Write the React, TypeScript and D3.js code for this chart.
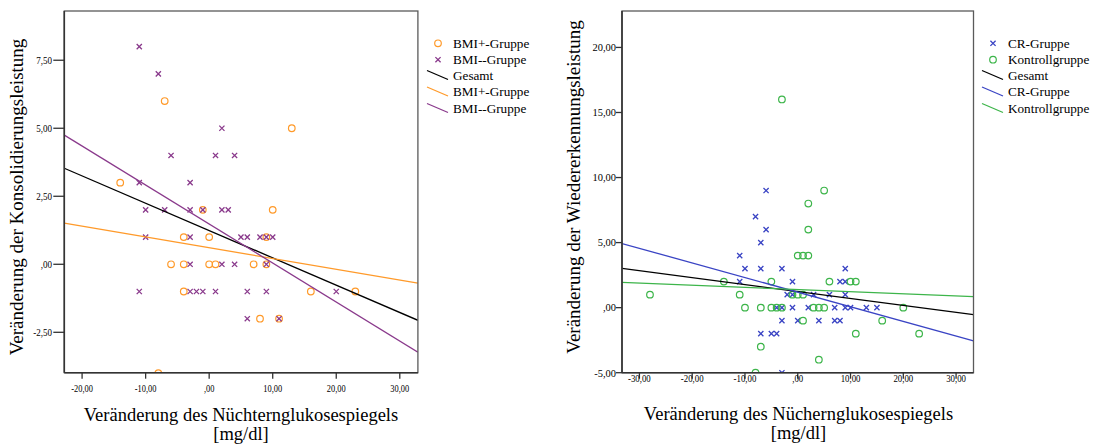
import React from "react";
import * as d3 from "d3";

// ---------- data: left chart (Konsolidierungsleistung) ----------
const bmiPlusX = [-7, 13, -14, -1, 10, -4, 0, 9, -6, -4, 0, 1, 7, 9, -4, 16, 23, 8, 11, -8];
const bmiPlusY = [6, 5, 3, 2, 2, 1, 1, 1, 0, 0, 0, 0, 0, 0, -1, -1, -1, -2, -2, -4];
const bmiMinusX = [-11, -8, 2, -6, 1, 4, -11, -3, -10, -7, -3, -1, 2, 3, -10, -3, 5, 6, 8, 9, 10, -3, 2, 4, 9, -11, -3, -2, -1, 1, 6, 9, 20, 6, 11];
const bmiMinusY = [8, 7, 5, 4, 4, 4, 3, 3, 2, 2, 2, 2, 2, 2, 1, 1, 1, 1, 1, 1, 1, 0, 0, 0, 0, -1, -1, -1, -1, -1, -1, -1, -1, -2, -2];
// fit lines [intercept, slope]: Gesamt, BMI+, BMI-
const leftFitNames = ["Gesamt", "BMI+-Gruppe", "BMI--Gruppe"];
const leftFitIntercepts = [1.24, 0.61, 1.48];
const leftFitSlopes = [-0.1004, -0.0396, -0.1434];
const leftXTicks = [-20, -10, 0, 10, 20, 30];
const leftXTickLabels = ["-20,00", "-10,00", ",00", "10,00", "20,00", "30,00"];
const leftYTicks = [-2.5, 0, 2.5, 5, 7.5];
const leftYTickLabels = ["-2,50", ",00", "2,50", "5,00", "7,50"];

// ---------- data: right chart (Wiedererkennungsleistung) ----------
const crX = [-6, -8, -6, -7, -11, -10, -7, -3, 9, -11, -1, 8, 9, -2, -1, 3, 6, 9, -4, -3, -1, 2, 7, 9, 10, 13, 15, -3, 0, 4, 7, 8, -7, -5, -4, -3];
const crY = [9, 7, 6, 5, 4, 3, 3, 3, 3, 2, 2, 2, 2, 1, 1, 1, 1, 1, 0, 0, 0, 0, 0, 0, 0, 0, 0, -1, -1, -1, -1, -1, -2, -2, -2, -5];
const kgX = [-3, 5, 2, 2, 0, 1, 2, -14, -5, 6, 10, 11, -28, -11, -1, 0, 1, -10, -7, -5, -4, -3, 3, 4, 5, 20, 1, 16, 11, 23, -7, 4, -8];
const kgY = [16, 9, 8, 6, 4, 4, 4, 2, 2, 2, 2, 2, 1, 1, 1, 1, 1, 0, 0, 0, 0, 0, 0, 0, 0, 0, -1, -1, -2, -2, -3, -4, -5];
const rightFitNames = ["Gesamt", "CR-Gruppe", "Kontrollgruppe"];
const rightFitIntercepts = [1.24, 1.19, 1.39];
const rightFitSlopes = [-0.0533, -0.1123, -0.0165];
const rightXTicks = [-30, -20, -10, 0, 10, 20, 30];
const rightXTickLabels = ["-30,00", "-20,00", "-10,00", ",00", "10,00", "20,00", "30,00"];
const rightYTicks = [-5, 0, 5, 10, 15, 20];
const rightYTickLabels = ["-5,00", ",00", "5,00", "10,00", "15,00", "20,00"];

const ORANGE = "#FF9A2A";
const PURPLE = "#8A3A8C";
const BLUE = "#3A44C4";
const GREEN = "#3DB54A";
const SERIF = "'Liberation Serif', 'Times New Roman', serif";

function estWidth(s: string, size: number) {
  let w = 0;
  for (const c of s) w += c === "," ? 0.25 : c === "-" ? 0.333 : 0.5;
  return w * size;
}

function Circle({ x, y, color }: { x: number; y: number; color: string }) {
  return <circle cx={x} cy={y} r={3.3} fill="none" stroke={color} strokeWidth={1.2} />;
}
function Cross({ x, y, color }: { x: number; y: number; color: string }) {
  const s = 2.6;
  return (
    <path d={`M${x - s},${y - s}L${x + s},${y + s}M${x - s},${y + s}L${x + s},${y - s}`} stroke={color} strokeWidth={1.3} fill="none" />
  );
}

type PanelProps = {
  id: string;
  x0: number; x1: number; y0: number; y1: number;
  xDomain: [number, number]; yDomain: [number, number];
  series: { xs: number[]; ys: number[]; color: string; marker: "circle" | "cross" }[];
  fits: { a: number; b: number; color: string }[];
  xTicks: number[]; xTickLabels: string[]; yTicks: number[]; yTickLabels: string[];
  yLabelEnd: number; yTickLen: number; yTickFont: number; yTickSquash: number;
  xLabelBase: number; xTickFont: number; xTickSquash: number;
  yTitle: string; yTitleX: number; yTitleY: number;
  xTitle: string; xTitleX: number; xTitleBase: number;
};

function Panel(p: PanelProps) {
  const xs = d3.scaleLinear().domain(p.xDomain).range([p.x0, p.x1]);
  const ys = d3.scaleLinear().domain(p.yDomain).range([p.y1, p.y0]);
  return (
    <g>
      <defs>
        <clipPath id={p.id}>
          <rect x={p.x0} y={p.y0} width={p.x1 - p.x0} height={p.y1 - p.y0} />
        </clipPath>
      </defs>
      <g clipPath={`url(#${p.id})`}>
        {p.series.map((s, si) =>
          s.xs.map((xv, i) =>
            s.marker === "circle" ? (
              <Circle key={`${si}-${i}`} x={xs(xv)} y={ys(s.ys[i])} color={s.color} />
            ) : (
              <Cross key={`${si}-${i}`} x={xs(xv)} y={ys(s.ys[i])} color={s.color} />
            )
          )
        )}
        {p.fits.map((f, i) => {
          const dl = d3
            .line<number>()
            .x((v) => xs(v))
            .y((v) => ys(f.a + f.b * v))(p.xDomain as number[]);
          return <path key={i} d={dl || ""} stroke={f.color} strokeWidth={1.3} fill="none" />;
        })}
      </g>
      <rect x={p.x0} y={p.y0} width={p.x1 - p.x0} height={p.y1 - p.y0} fill="none" stroke="#5a5a5a" strokeWidth={1.3} />
      <line x1={p.x0} x2={p.x0} y1={p.y0} y2={p.y1} stroke="#333" strokeWidth={1.6} />
      <line x1={p.x0} x2={p.x1} y1={p.y1} y2={p.y1} stroke="#333" strokeWidth={1.6} />
      {p.xTicks.map((t, i) => (
        <g key={`xt${i}`}>
          <line x1={xs(t)} x2={xs(t)} y1={p.y1} y2={p.y1 + 6} stroke="#333" strokeWidth={1.3} />
          <text
            x={xs(t)}
            y={p.xLabelBase}
            textAnchor="middle"
            fontSize={p.xTickFont}
            fontFamily={SERIF}
            textLength={estWidth(p.xTickLabels[i], p.xTickFont) * p.xTickSquash}
            lengthAdjust="spacingAndGlyphs"
          >
            {p.xTickLabels[i]}
          </text>
        </g>
      ))}
      {p.yTicks.map((t, i) => (
        <g key={`yt${i}`}>
          <line x1={p.x0 - p.yTickLen} x2={p.x0} y1={ys(t)} y2={ys(t)} stroke="#333" strokeWidth={1.3} />
          <text
            x={p.yLabelEnd}
            y={ys(t)}
            dy="0.35em"
            textAnchor="end"
            fontSize={p.yTickFont}
            fontFamily={SERIF}
            textLength={estWidth(p.yTickLabels[i], p.yTickFont) * p.yTickSquash}
            lengthAdjust="spacingAndGlyphs"
          >
            {p.yTickLabels[i]}
          </text>
        </g>
      ))}
      <text
        transform={`translate(${p.yTitleX},${p.yTitleY}) rotate(-90)`}
        textAnchor="middle"
        fontSize={19}
        fontFamily={SERIF}
      >
        {p.yTitle}
      </text>
      <text x={p.xTitleX} y={p.xTitleBase} textAnchor="middle" fontSize={18.5} fontFamily={SERIF}>
        {p.xTitle}
      </text>
      <text x={p.xTitleX} y={p.xTitleBase + 19} textAnchor="middle" fontSize={18.5} fontFamily={SERIF}>
        [mg/dl]
      </text>
    </g>
  );
}

type LegendItem = { label: string; kind: "circle" | "cross" | "line"; color: string };

function Legend({ x, y, items }: { x: number; y: number; items: LegendItem[] }) {
  const rows = [0, 16.4, 31.7, 48.2, 64.7];
  return (
    <g>
      {items.map((it, i) => {
        const cy = y + rows[i];
        return (
          <g key={i}>
            {it.kind === "circle" && <Circle x={x + 11} y={cy} color={it.color} />}
            {it.kind === "cross" && <Cross x={x + 11} y={cy} color={it.color} />}
            {it.kind === "line" && (
              <line x1={x} y1={cy - 4.5} x2={x + 21} y2={cy + 4.5} stroke={it.color} strokeWidth={1.3} />
            )}
            <text x={x + 26} y={cy} dy="0.35em" fontSize={13.2} fontFamily={SERIF}>
              {it.label}
            </text>
          </g>
        );
      })}
    </g>
  );
}

export default function App() {
  return (
    <svg width={1095} height={444} style={{ position: "absolute", left: 0, top: 0, background: "#fff" }}>
      <rect x={0} y={0} width={1095} height={444} fill="#fff" />
      <Panel
        id="clipL"
        x0={64.3} x1={417.9} y0={11} y1={372.7}
        xDomain={[-22.8, 32.85]} yDomain={[-3.985, 9.31]}
        series={[
          { xs: bmiPlusX, ys: bmiPlusY, color: ORANGE, marker: "circle" },
          { xs: bmiMinusX, ys: bmiMinusY, color: PURPLE, marker: "cross" },
        ]}
        fits={[
          { a: leftFitIntercepts[0], b: leftFitSlopes[0], color: "#000" },
          { a: leftFitIntercepts[1], b: leftFitSlopes[1], color: ORANGE },
          { a: leftFitIntercepts[2], b: leftFitSlopes[2], color: PURPLE },
        ]}
        xTicks={leftXTicks} xTickLabels={leftXTickLabels}
        yTicks={leftYTicks} yTickLabels={leftYTickLabels}
        yLabelEnd={52} yTickLen={11} yTickFont={10.5} yTickSquash={0.86}
        xLabelBase={392} xTickFont={10.5} xTickSquash={0.8}
        yTitle="Veränderung der Konsolidierungsleistung" yTitleX={23} yTitleY={197}
        xTitle="Veränderung des Nüchternglukosespiegels" xTitleX={241} xTitleBase={421}
      />
      <Legend
        x={427}
        y={43.3}
        items={[
          { label: "BMI+-Gruppe", kind: "circle", color: ORANGE },
          { label: "BMI--Gruppe", kind: "cross", color: PURPLE },
          { label: leftFitNames[0], kind: "line", color: "#000" },
          { label: leftFitNames[1], kind: "line", color: ORANGE },
          { label: leftFitNames[2], kind: "line", color: PURPLE },
        ]}
      />
      <Panel
        id="clipR"
        x0={622} x1={973.5} y0={11} y1={372.7}
        xDomain={[-33.3, 33.3]} yDomain={[-5, 22.8]}
        series={[
          { xs: crX, ys: crY, color: BLUE, marker: "cross" },
          { xs: kgX, ys: kgY, color: GREEN, marker: "circle" },
        ]}
        fits={[
          { a: rightFitIntercepts[0], b: rightFitSlopes[0], color: "#000" },
          { a: rightFitIntercepts[1], b: rightFitSlopes[1], color: BLUE },
          { a: rightFitIntercepts[2], b: rightFitSlopes[2], color: GREEN },
        ]}
        xTicks={rightXTicks} xTickLabels={rightXTickLabels}
        yTicks={rightYTicks} yTickLabels={rightYTickLabels}
        yLabelEnd={616} yTickLen={6} yTickFont={11} yTickSquash={0.95}
        xLabelBase={382} xTickFont={10} xTickSquash={0.88}
        yTitle="Veränderung der Wiedererkennungsleistung" yTitleX={580} yTitleY={187}
        xTitle="Veränderung des Nüchernglukosespiegels" xTitleX={798.5} xTitleBase={420}
      />
      <Legend
        x={982}
        y={43.3}
        items={[
          { label: "CR-Gruppe", kind: "cross", color: BLUE },
          { label: "Kontrollgruppe", kind: "circle", color: GREEN },
          { label: rightFitNames[0], kind: "line", color: "#000" },
          { label: rightFitNames[1], kind: "line", color: BLUE },
          { label: rightFitNames[2], kind: "line", color: GREEN },
        ]}
      />
    </svg>
  );
}
